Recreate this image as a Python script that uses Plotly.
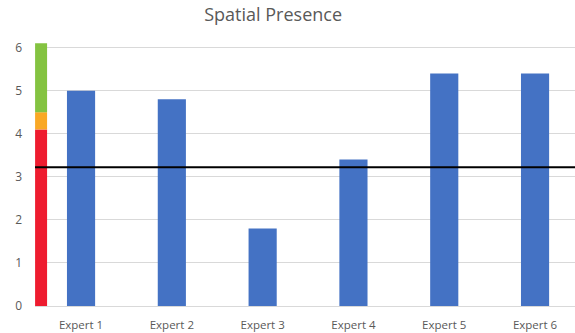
import plotly.graph_objects as go

categories = ["Expert 1", "Expert 2", "Expert 3", "Expert 4", "Expert 5", "Expert 6"]
scores = [5.0, 4.8, 1.8, 3.4, 5.4, 5.4]
threshold = 3.22
scale_bounds = [0, 4.1, 4.5, 6.1]
scale_colors = ["#EE1C2F", "#F9A825", "#84C341"]
y_ticks = [0, 1, 2, 3, 4, 5, 6]

x_pos = list(range(len(categories)))

fig = go.Figure()

# colour scale strip at the left
for i, col in enumerate(scale_colors):
    fig.add_trace(go.Bar(
        x=[-0.44], y=[scale_bounds[i + 1] - scale_bounds[i]], base=[scale_bounds[i]],
        width=0.132, marker=dict(color=col, line=dict(width=0)), showlegend=False,
        hoverinfo="skip"))

fig.add_trace(go.Bar(
    x=x_pos, y=scores, width=0.31,
    marker=dict(color="#4472C4", line=dict(width=0)), showlegend=False))

fig.add_trace(go.Scatter(
    x=[-0.507, 5.44], y=[threshold, threshold], mode="lines",
    line=dict(color="#000000", width=2), showlegend=False, hoverinfo="skip"))

fig.update_layout(
    width=575, height=333,
    margin=dict(l=35, r=0, t=39, b=27),
    paper_bgcolor="white", plot_bgcolor="white",
    barmode="overlay",
    title=dict(text="Spatial Presence", x=0.475, xanchor="center", y=0.955, yanchor="middle",
               font=dict(family="Open Sans", size=18, color="#595959")),
    font=dict(family="Open Sans", size=11, color="#595959"),
    xaxis=dict(range=[-0.507, 5.44], tickvals=x_pos, ticktext=categories,
               showgrid=False, zeroline=False, showline=False, ticks="",
               ticklabelstandoff=10,
               tickfont=dict(size=11.5, color="#595959")),
    yaxis=dict(range=[0, 6.2], tickvals=y_ticks, showgrid=True, gridcolor="#D9D9D9",
               gridwidth=1, zeroline=True, zerolinecolor="#D9D9D9", zerolinewidth=1,
               showline=False, ticks="", ticklabelstandoff=12,
               tickfont=dict(size=12, color="#595959")),
)

fig.write_html("out.html", config={"displayModeBar": False},
               post_script="document.body.style.margin='0px';")
